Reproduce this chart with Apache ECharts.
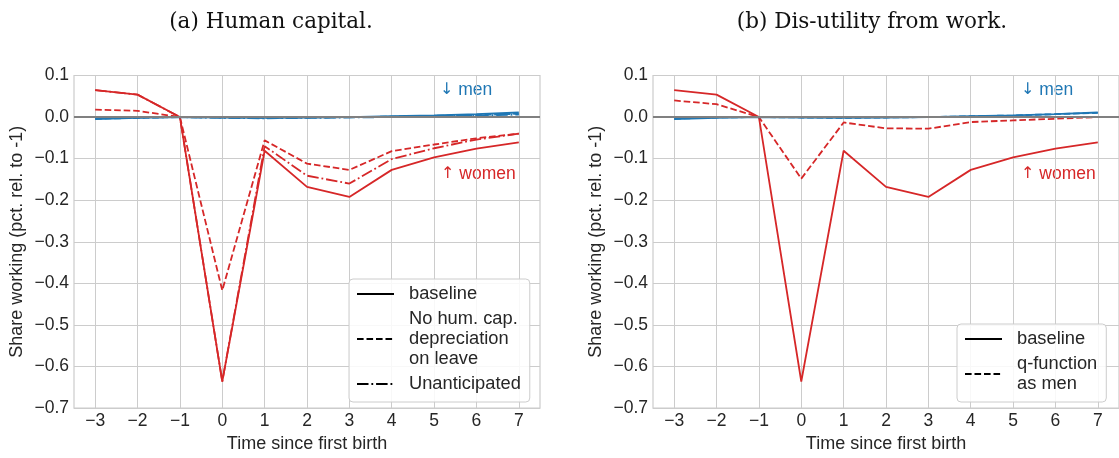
<!DOCTYPE html>
<html><head><meta charset="utf-8">
<script src="https://cdn.jsdelivr.net/npm/echarts@6/dist/echarts.min.js"></script>
<style>html,body{margin:0;padding:0;background:#fff}#c{width:1119px;height:458px}</style>
</head><body><div id="c"></div><script>
// ---- data ----
const tickLabels = ['−3','−2','−1','0','1','2','3','4','5','6','7'];
const womenBaseline       = [0.065, 0.054, 0, -0.636, -0.081, -0.168, -0.192, -0.127, -0.097, -0.076, -0.061];
const womenNoDepreciation = [0.018, 0.015, 0, -0.417, -0.056, -0.112, -0.127, -0.082, -0.066, -0.051, -0.040];
const womenUnanticipated  = [0.065, 0.054, 0, -0.636, -0.070, -0.141, -0.160, -0.101, -0.075, -0.054, -0.040];
const menBaseline         = [-0.005, -0.002, 0, -0.001, -0.002, -0.001, 0.000, 0.002, 0.004, 0.007, 0.011];
const menNoDepreciation   = [-0.004, -0.002, 0, -0.001, -0.002, -0.001, 0.000, 0.001, 0.003, 0.005, 0.008];
const menUnanticipated    = [-0.003, -0.001, 0, -0.002, -0.003, -0.002, -0.001, 0.000, 0.002, 0.004, 0.006];
const womenQMen           = [0.040, 0.031, 0, -0.148, -0.013, -0.027, -0.028, -0.012, -0.008, -0.004, 0.000];
const menQMen             = [-0.004, -0.001, 0, -0.001, -0.002, -0.001, 0.000, 0.002, 0.004, 0.007, 0.010];
const legendA = ['baseline', 'No hum. cap.\ndepreciation\non leave', 'Unanticipated'];
const legendB = ['baseline', 'q-function\nas men'];
const titles = ['(a) Human capital.', '(b) Dis-utility from work.'];

// ---- styling ----
const FONT = '"Liberation Sans", Arial, sans-serif';
const RED = '#d62728', BLUE = '#1f77b4', TXT = '#262626', GRIDC = '#cccccc';
const LW = 1.8;
const DASH = [6.6, 2.9];
const DASHDOT = [11.5, 2.9, 1.8, 2.9];

function xAxis(gi) {
  return {
    type: 'category', gridIndex: gi, data: tickLabels, boundaryGap: true,
    axisLine: {show: false}, axisTick: {show: false},
    axisLabel: {fontSize: 17.5, color: TXT, fontFamily: FONT, margin: 4},
    splitLine: {show: true, alignWithLabel: true, lineStyle: {color: GRIDC, width: 1}},
    name: 'Time since first birth', nameLocation: 'middle', nameGap: 22,
    nameTextStyle: {fontSize: 18, color: TXT, fontFamily: FONT}
  };
}
function yAxis(gi) {
  return {
    type: 'value', gridIndex: gi, min: -0.7, max: 0.1, interval: 0.1,
    axisLine: {show: false}, axisTick: {show: false},
    axisLabel: {fontSize: 17.5, color: TXT, fontFamily: FONT, margin: 5,
      formatter: v => Math.abs(v) < 1e-9 ? '0.0' : v.toFixed(1).replace('-', '−')},
    splitLine: {show: true, lineStyle: {color: GRIDC, width: 1}},
    name: 'Share working (pct. rel. to -1)', nameLocation: 'middle', nameGap: 48,
    nameTextStyle: {fontSize: 18, color: TXT, fontFamily: FONT}
  };
}
function line(name, gi, data, color, type, z) {
  return {name, type: 'line', xAxisIndex: gi, yAxisIndex: gi, data, symbol: 'none',
    color, lineStyle: {color, width: LW, type}, z: z || 3, silent: true, animation: false};
}
function zeroLine(gi) {
  return {name: 'zero' + gi, type: 'line', xAxisIndex: gi, yAxisIndex: gi, data: [], z: 1,
    silent: true, animation: false,
    markLine: {silent: true, symbol: 'none', label: {show: false}, animation: false,
      lineStyle: {color: '#808080', width: 2, type: 'solid'}, data: [{yAxis: 0}]}};
}
function legend(left, top, data) {
  return {left, top, orient: 'vertical', data, itemWidth: 37, itemHeight: 14, itemGap: 5,
    padding: [5, 9, 8, 7], backgroundColor: 'rgba(255,255,255,0.85)', borderColor: GRIDC,
    borderWidth: 1, borderRadius: 4, selectedMode: false,
    itemStyle: {opacity: 0, borderWidth: 0},
    textStyle: {fontSize: 18.3, color: TXT, fontFamily: FONT, lineHeight: 20, padding: [0, 0, 0, 10]}};
}
function note(x, y, arrow, word, color) {
  return {type: 'text', x, y, style: {
    text: '{a|' + arrow + '} ' + word, verticalAlign: 'middle', fill: color,
    font: '17.5px ' + FONT,
    rich: {a: {fontFamily: '"DejaVu Sans", sans-serif', fontSize: 16, fill: color}}}};
}

const chart = echarts.init(document.getElementById('c'), null, {renderer: 'canvas'});
chart.setOption({
  animation: false,
  grid: [
    {left: 74, top: 75.5, width: 466, height: 336, show: true, borderColor: GRIDC, borderWidth: 1.2},
    {left: 653, top: 75.5, width: 466, height: 336, show: true, borderColor: GRIDC, borderWidth: 1.2}
  ],
  xAxis: [xAxis(0), xAxis(1)],
  yAxis: [yAxis(0), yAxis(1)],
  legend: [legend(349, 279, legendA), legend(957, 324, legendB)],
  series: [
    zeroLine(0), zeroLine(1),
    line(legendA[0], 0, [], '#000', 'solid'),
    line(legendA[1], 0, [], '#000', DASH),
    line(legendA[2], 0, [], '#000', DASHDOT),
    line(legendB[1], 1, [], '#000', DASH),
    line('women baseline a', 0, womenBaseline, RED, 'solid'),
    line('women no depreciation', 0, womenNoDepreciation, RED, DASH),
    line('women unanticipated', 0, womenUnanticipated, RED, DASHDOT),
    line('men baseline a', 0, menBaseline, BLUE, 'solid', 4),
    line('men no depreciation', 0, menNoDepreciation, BLUE, DASH, 4),
    line('men unanticipated', 0, menUnanticipated, BLUE, DASHDOT, 4),
    line('women baseline b', 1, womenBaseline, RED, 'solid'),
    line('women q men', 1, womenQMen, RED, DASH),
    line('men baseline b', 1, menBaseline, BLUE, 'solid', 4),
    line('men q men', 1, menQMen, BLUE, DASH, 4)
  ],
  graphic: [
    {type: 'text', x: 271, y: 22, style: {text: titles[0], align: 'center', verticalAlign: 'middle', font: '21.5px "DejaVu Serif", serif', fill: '#111'}},
    {type: 'text', x: 872, y: 22, style: {text: titles[1], align: 'center', verticalAlign: 'middle', font: '21.5px "DejaVu Serif", serif', fill: '#111'}},
    note(440, 90, '↓', 'men', BLUE),
    note(441, 174, '↑', 'women', RED),
    note(1021, 90, '↓', 'men', BLUE),
    note(1021, 174, '↑', 'women', RED)
  ]
});
</script></body></html>
